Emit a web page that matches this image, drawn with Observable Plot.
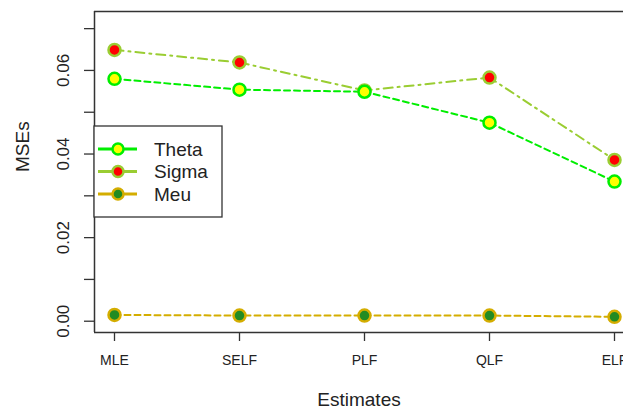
<!DOCTYPE html>
<html><head><meta charset="utf-8">
<script src="https://cdn.jsdelivr.net/npm/d3@7"></script>
<script src="https://cdn.jsdelivr.net/npm/@observablehq/plot@0.6"></script>
<style>
body{margin:0;background:#fff;font-family:"Liberation Sans",Arial,sans-serif;}
#wrap{position:relative;width:623px;height:410px;}
#legend{position:absolute;left:0;top:0;}
</style>
</head><body>
<div id="wrap"></div>
<script>
const estimates = ["MLE","SELF","PLF","QLF","ELF"];
const theta = [0.0580, 0.0554, 0.0549, 0.0475, 0.0334];
const sigma = [0.0649, 0.0619, 0.0552, 0.0583, 0.0386];
const meu   = [0.0015, 0.00136, 0.00136, 0.00136, 0.00105];
const seriesNames = ["Theta","Sigma","Meu"];
const yTicks = [0,0.01,0.02,0.03,0.04,0.05,0.06,0.07];
const yLabels = [0,0.02,0.04,0.06];

const styles = {
  Theta:{line:"#00ee00", fill:"#ffff00", stroke:"#00ee00", dash:"6,4"},
  Sigma:{line:"#9acd32", fill:"#ff0000", stroke:"#9acd32", dash:"9,5,2,5"},
  Meu:{line:"#d4ad00", fill:"#228b22", stroke:"#d4ad00", dash:"6,4"}
};
const vals = {Theta:theta, Sigma:sigma, Meu:meu};
const data = seriesNames.flatMap(s => vals[s].map((v,i)=>({s, i, v})));

const xDom = [-0.16, 4.072];
const yDom = [-0.0027, 0.0741];
const font = '"Liberation Sans",Arial,sans-serif';

const marks = [];
for (const s of ["Meu","Sigma","Theta"]) {
  const d = data.filter(r=>r.s===s);
  marks.push(Plot.line(d,{x:"i",y:"v",stroke:styles[s].line,strokeWidth:2,strokeDasharray:styles[s].dash}));
}
for (const s of ["Meu","Sigma","Theta"]) {
  const d = data.filter(r=>r.s===s);
  marks.push(Plot.dot(d,{x:"i",y:"v",r:6,fill:styles[s].fill,stroke:styles[s].stroke,strokeWidth:2.5}));
}

const chart = Plot.plot({
  width:623, height:410,
  marginLeft:94, marginRight:0, marginTop:11, marginBottom:78,
  style:{fontFamily:font, background:"#fff", color:"#222"},
  x:{type:"linear", domain:xDom},
  y:{domain:yDom},
  marks:[
    ...marks,
    Plot.ruleX([xDom[0]],{stroke:"#333",strokeWidth:1.5}),
    Plot.ruleY([yDom[0], yDom[1]],{stroke:"#333",strokeWidth:1.5}),
    Plot.axisY({ticks:yTicks, tickSize:10, tickFormat:()=>"", label:null, stroke:"#333", strokeWidth:1.3}),
    Plot.text(yLabels,{y:d=>d, text:d=>d.toFixed(2), frameAnchor:"left", dx:-31, rotate:-90, fontSize:17, fill:"#222", textAnchor:"middle", lineAnchor:"middle"}),
    Plot.axisX({ticks:[0,1,2,3,4], tickFormat:i=>estimates[i], tickSize:9, tickPadding:14, fontSize:14, label:null, stroke:"#333", strokeWidth:1.3, fill:"#222"}),
    Plot.text(["MSEs"],{frameAnchor:"left", dx:-72, rotate:-90, fontSize:19, fill:"#222", lineAnchor:"middle"}),
    Plot.text(["Estimates"],{frameAnchor:"bottom", dy:67, fontSize:19, fill:"#222", lineAnchor:"middle"})
  ]
});
document.getElementById("wrap").appendChild(chart);

// legend
const svg = d3.select("#wrap").append("svg").attr("id","legend").attr("width",623).attr("height",410);
svg.append("rect").attr("x",94).attr("y",126).attr("width",128).attr("height",91)
  .attr("fill","#fff").attr("stroke","#333").attr("stroke-width",1.3);
seriesNames.forEach((s,k)=>{
  const y = 149 + k*22.5;
  svg.append("line").attr("x1",98).attr("x2",137).attr("y1",y).attr("y2",y)
    .attr("stroke",styles[s].line).attr("stroke-width",3);
  svg.append("circle").attr("cx",118).attr("cy",y).attr("r",5.5)
    .attr("fill",styles[s].fill).attr("stroke",styles[s].stroke).attr("stroke-width",2.5);
  svg.append("text").attr("x",154).attr("y",y).attr("dy","0.35em")
    .attr("font-family",font).attr("font-size",19).attr("fill","#222").text(s);
});
</script>
</body></html>
